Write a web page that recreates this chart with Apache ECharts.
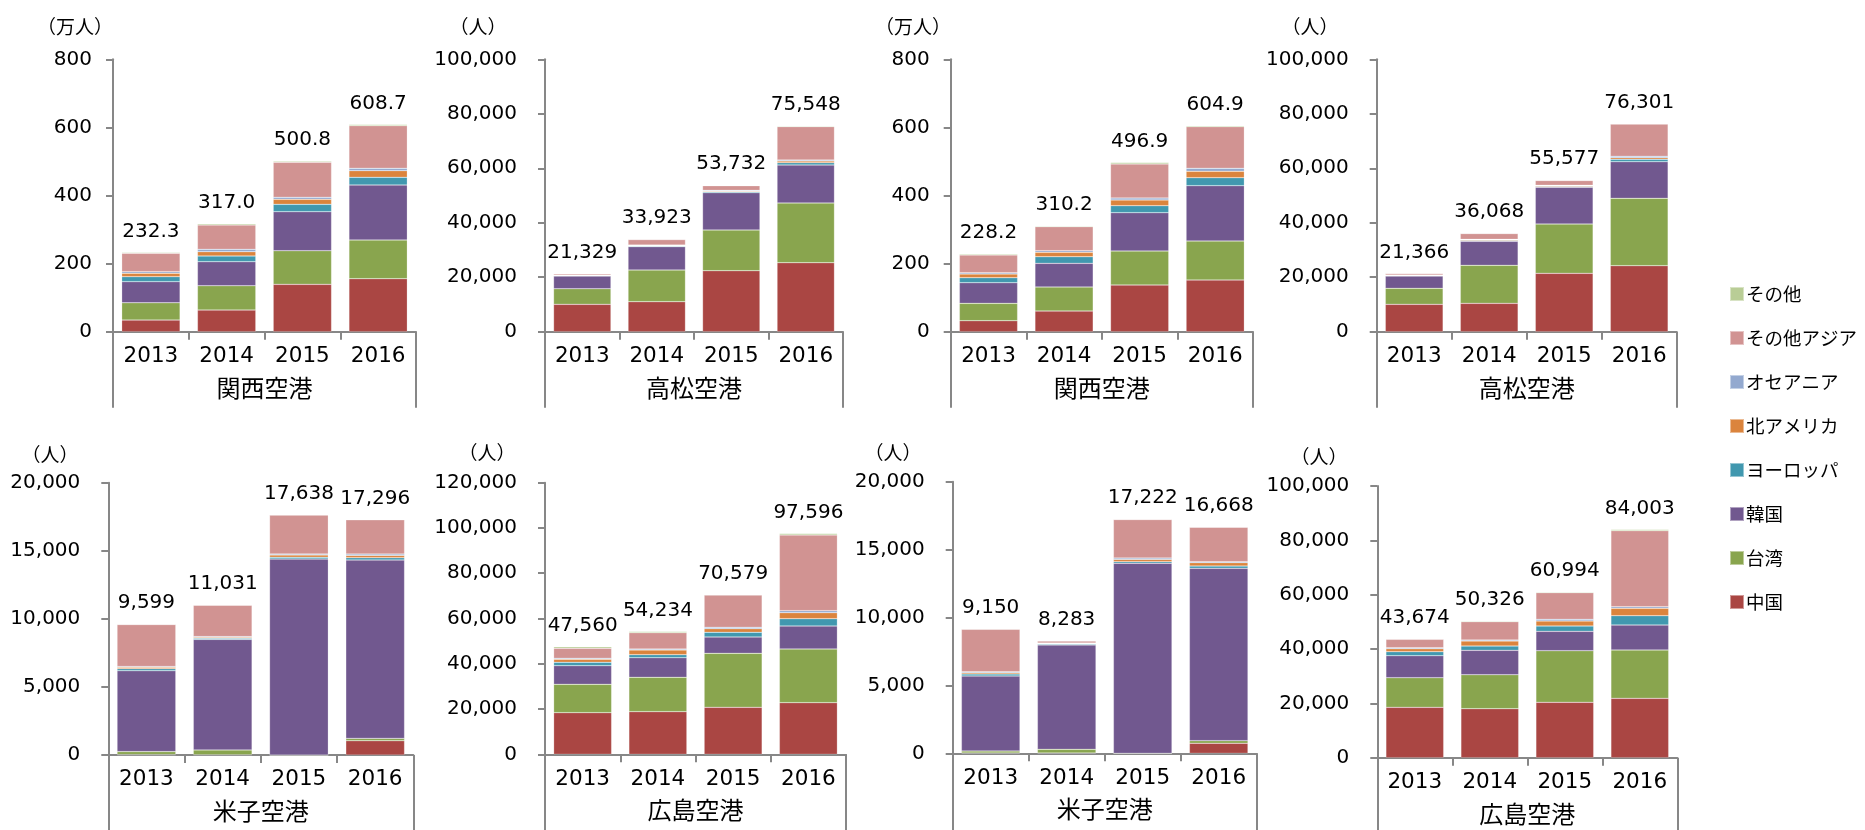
<!DOCTYPE html>
<html>
<head>
<meta charset="utf-8">
<script src="https://cdn.jsdelivr.net/npm/echarts@6/dist/echarts.min.js"></script>
<style>
html,body{margin:0;padding:0;background:#fff;}
#chart{width:1865px;height:830px;}
</style>
</head>
<body>
<div id="chart"></div>
<script>
// ---- data ----
const years = ['2013', '2014', '2015', '2016'];
const seriesNames = ['中国', '台湾', '韓国', 'ヨーロッパ', '北アメリカ', 'オセアニア', 'その他アジア', 'その他'];
const seriesColors = ['#AA4643', '#89A54E', '#71588F', '#4198AF', '#DB843D', '#93A9CF', '#D19392', '#B9CD96'];
const airportNames = ['関西空港', '高松空港', '関西空港', '高松空港', '米子空港', '広島空港', '米子空港', '広島空港'];
const unitLabels = ['（万人）', '（人）', '（万人）', '（人）', '（人）', '（人）', '（人）', '（人）'];
const yMax = [800, 100000, 800, 100000, 20000, 120000, 20000, 100000];
const yInterval = [200, 20000, 200, 20000, 5000, 20000, 5000, 20000];

// rows: 中国, 台湾, 韓国, ヨーロッパ, 北アメリカ, オセアニア, その他アジア, その他 ; columns: 2013..2016
const kansaiA = [
  [34.0, 63.6, 139.0, 155.7],
  [51.0, 71.5, 98.9, 113.6],
  [62.0, 70.5, 114.6, 161.5],
  [14.7, 16.7, 21.5, 22.6],
  [9.8, 12.7, 14.7, 19.6],
  [4.9, 6.9, 5.9, 6.8],
  [53.8, 71.4, 102.8, 125.3],
  [2.2, 3.7, 3.4, 3.6]
];
const takamatsuA = [
  [10040, 11020, 22400, 25340],
  [5750, 11620, 14930, 21910],
  [4650, 8570, 13710, 13950],
  [150, 250, 350, 860],
  [100, 200, 300, 610],
  [80, 150, 200, 360],
  [500, 2000, 1700, 12250],
  [59, 113, 142, 268]
];
const kansaiB = [
  [32.3, 60.7, 137.1, 151.8],
  [50.9, 70.5, 99.9, 114.5],
  [60.7, 69.5, 112.6, 162.6],
  [14.7, 19.6, 20.5, 23.5],
  [10.8, 12.7, 16.7, 18.6],
  [3.9, 4.9, 5.9, 8.8],
  [51.9, 70.5, 99.8, 122.4],
  [3.0, 1.8, 4.4, 2.7]
];
const takamatsuB = [
  [10040, 10400, 21420, 24240],
  [5870, 13960, 18110, 24720],
  [4530, 8810, 13470, 13460],
  [150, 300, 300, 860],
  [100, 300, 300, 610],
  [80, 150, 150, 490],
  [550, 2100, 1750, 11860],
  [46, 48, 77, 61]
];
const yonagoA = [
  [30, 20, 0, 1050],
  [220, 350, 0, 170],
  [5940, 8120, 14390, 13100],
  [150, 80, 130, 170],
  [100, 80, 170, 170],
  [60, 50, 80, 100],
  [3080, 2300, 2850, 2520],
  [19, 31, 18, 16]
];
const hiroshimaA = [
  [18400, 18850, 20760, 22820],
  [12520, 15160, 23850, 23710],
  [8240, 8690, 7220, 10150],
  [1480, 1320, 2060, 3240],
  [1320, 2060, 1620, 2650],
  [440, 450, 590, 890],
  [4420, 7210, 14280, 33420],
  [740, 494, 199, 716]
];
const yonagoB = [
  [20, 20, 0, 740],
  [150, 270, 0, 190],
  [5520, 7690, 13990, 12690],
  [150, 60, 120, 170],
  [100, 50, 170, 250],
  [60, 40, 100, 60],
  [3130, 140, 2830, 2550],
  [20, 13, 12, 18]
];
const hiroshimaB = [
  [18530, 18040, 20370, 21840],
  [10920, 12510, 19020, 17790],
  [8100, 8960, 7110, 9200],
  [1470, 1590, 1970, 3440],
  [1100, 1840, 1840, 2700],
  [370, 370, 610, 610],
  [3070, 6750, 9820, 27980],
  [114, 266, 254, 443]
];

const totalsKansaiA = [232.3, 317.0, 500.8, 608.7];
const totalsTakamatsuA = [21329, 33923, 53732, 75548];
const totalsKansaiB = [228.2, 310.2, 496.9, 604.9];
const totalsTakamatsuB = [21366, 36068, 55577, 76301];
const totalsYonagoA = [9599, 11031, 17638, 17296];
const totalsHiroshimaA = [47560, 54234, 70579, 97596];
const totalsYonagoB = [9150, 8283, 17222, 16668];
const totalsHiroshimaB = [43674, 50326, 60994, 84003];

const panelValues = [kansaiA, takamatsuA, kansaiB, takamatsuB, yonagoA, hiroshimaA, yonagoB, hiroshimaB];
const panelTotals = [totalsKansaiA, totalsTakamatsuA, totalsKansaiB, totalsTakamatsuB, totalsYonagoA, totalsHiroshimaA, totalsYonagoB, totalsHiroshimaB];
const isManUnit = [true, false, true, false, false, false, false, false];

// ---- layout (pixels) ----
const gridBoxes = [
  [113, 59.3, 303, 272.4],
  [545, 59.3, 298, 272.4],
  [950.7, 59.3, 302.3, 272.4],
  [1376.7, 59.3, 300, 272.4],
  [108.3, 482.7, 305, 272.3],
  [545, 482.7, 301, 271.6],
  [952.7, 481.7, 304, 271.6],
  [1377.3, 486, 300, 271.7]
];
const yLabelMargin = [21, 28, 21, 28, 28, 28, 28, 28];
const unitPos = [[75, 27], [478, 27], [913, 27], [1310, 27], [50, 455], [487, 453], [893, 453], [1319, 457]];
const frameTickLen = [76, 76, 76, 76, 80, 80, 80, 80];

const NUM_FONT = "'DejaVu Sans', 'Noto Sans CJK JP', sans-serif";
const JP_FONT = "'Noto Sans CJK JP', sans-serif";
const AXIS_COLOR = '#878787';

const grids = [], xAxes = [], yAxes = [], series = [], graphics = [];
function fmtNum(v) { return Number(v).toLocaleString('en-US'); }

for (let p = 0; p < 8; p++) {
  const b = gridBoxes[p];
  grids.push({ left: b[0], top: b[1], width: b[2], height: b[3], containLabel: false });
  xAxes.push({
    type: 'category', gridIndex: p, data: years, position: 'bottom', offset: 0,
    axisLine: { show: true, lineStyle: { color: AXIS_COLOR, width: 2 } },
    axisTick: { show: true, length: 8, alignWithLabel: false, lineStyle: { color: AXIS_COLOR, width: 2 } },
    axisLabel: { margin: 14, fontSize: 21.5, color: '#000', fontFamily: NUM_FONT },
    splitLine: { show: false }
  });
  xAxes.push({
    type: 'category', gridIndex: p, data: [airportNames[p]], position: 'bottom', offset: 0,
    axisLine: { show: false },
    axisTick: { show: true, length: frameTickLen[p], alignWithLabel: false, lineStyle: { color: AXIS_COLOR, width: 2 } },
    axisLabel: { margin: 44, fontSize: 24, color: '#000', fontFamily: JP_FONT },
    splitLine: { show: false }
  });
  yAxes.push({
    type: 'value', gridIndex: p, min: 0, max: yMax[p], interval: yInterval[p],
    axisLine: { show: true, lineStyle: { color: AXIS_COLOR, width: 2 } },
    axisTick: { show: true, length: 7, lineStyle: { color: AXIS_COLOR, width: 2 } },
    axisLabel: { margin: yLabelMargin[p], fontSize: 20, color: '#000', fontFamily: NUM_FONT, formatter: fmtNum },
    splitLine: { show: false }
  });
  const vals = panelValues[p];
  const tots = panelTotals[p];
  for (let s = 0; s < seriesNames.length; s++) {
    const isTop = s === seriesNames.length - 1;
    series.push({
      type: 'bar', name: seriesNames[s], stack: 'panel' + p,
      xAxisIndex: p * 2, yAxisIndex: p,
      barWidth: '77%',
      data: vals[s],
      itemStyle: { color: seriesColors[s], borderColor: 'rgba(255,255,255,0.45)', borderWidth: 0.5 },
      label: isTop ? {
        show: true, position: 'top', distance: 11, fontSize: 20, color: '#000', fontFamily: NUM_FONT,
        formatter: (function (tt, man) {
          return function (d) { const v = tt[d.dataIndex]; return man ? v.toFixed(1) : fmtNum(v); };
        })(tots, isManUnit[p])
      } : { show: false },
      emphasis: { disabled: true }
    });
  }
  graphics.push({
    type: 'text', x: unitPos[p][0], y: unitPos[p][1],
    style: { text: unitLabels[p], fill: '#000', font: "19px 'Noto Sans CJK JP', sans-serif", textAlign: 'center', textVerticalAlign: 'middle' }
  });
}

const chart = echarts.init(document.getElementById('chart'), null, { renderer: 'canvas' });
chart.setOption({
  animation: false,
  backgroundColor: '#fff',
  grid: grids,
  xAxis: xAxes,
  yAxis: yAxes,
  series: series,
  legend: {
    orient: 'vertical', left: 1724, top: 279,
    data: seriesNames.slice().reverse(),
    icon: 'rect', itemWidth: 14, itemHeight: 14, itemGap: 24,
    textStyle: { fontSize: 18.5, color: '#000', fontFamily: JP_FONT, lineHeight: 20, padding: [0, 0, 0, -3] },
    selectedMode: false
  },
  graphic: graphics
});
</script>
</body>
</html>
